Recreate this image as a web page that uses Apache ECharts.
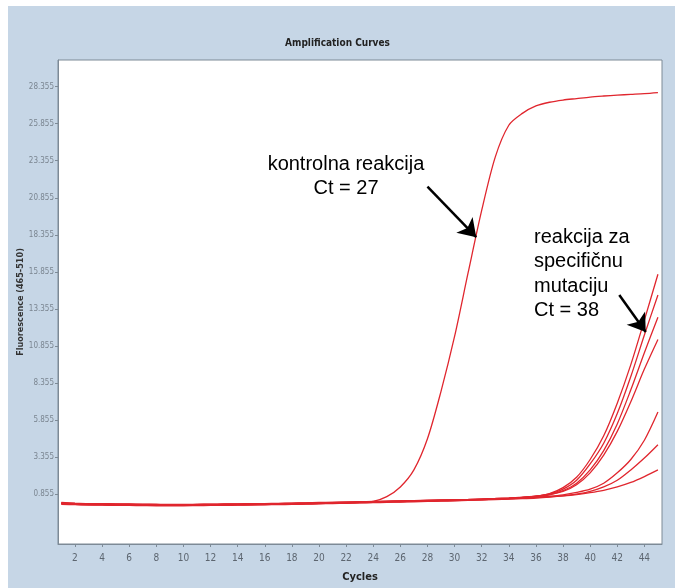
<!DOCTYPE html>
<html>
<head>
<meta charset="utf-8">
<script src="https://cdn.jsdelivr.net/npm/echarts@6/dist/echarts.min.js"></script>
<style>
  html, body { margin: 0; padding: 0; background: #ffffff; }
  #panel { position: absolute; left: 8px; top: 6px; width: 667px; height: 582px; background: #c6d6e6; }
  #chart { position: absolute; left: 0; top: 0; width: 675px; height: 588px; }
</style>
</head>
<body>
<div id="panel"></div>
<div id="chart"></div>
<script>
const cycles = [1,2,3,4,5,6,7,8,9,10,11,12,13,14,15,16,17,18,19,20,21,22,23,24,25,26,27,28,29,30,31,32,33,34,35,36,37,38,39,40,41,42,43,44,45]
const xTicks = [2,4,6,8,10,12,14,16,18,20,22,24,26,28,30,32,34,36,38,40,42,44]
const yTicks = [0.855,3.355,5.855,8.355,10.855,13.355,15.855,18.355,20.855,23.355,25.855,28.355]

// kontrolna reakcija
const control = [0.25,0.2,0.18,0.17,0.16,0.15,0.14,0.13,0.13,0.12,0.13,0.14,0.15,0.16,0.17,0.18,0.2,0.21,0.22,0.24,0.26,0.28,0.31,0.38,0.7,1.35,2.5,4.6,7.8,11.5,15.8,20.0,23.6,25.75,26.55,27.05,27.3,27.45,27.55,27.65,27.72,27.78,27.83,27.88,27.95]
// reakcije za specifičnu mutaciju
const mutA = [0.22,0.18,0.16,0.15,0.14,0.13,0.12,0.11,0.1,0.1,0.11,0.12,0.13,0.14,0.15,0.16,0.18,0.19,0.21,0.23,0.25,0.27,0.29,0.31,0.33,0.35,0.37,0.39,0.41,0.43,0.46,0.49,0.53,0.58,0.64,0.72,0.9,1.3,2.0,3.2,4.8,7.0,9.6,12.6,15.7]
const mutB = [0.28,0.24,0.21,0.2,0.19,0.18,0.17,0.16,0.15,0.15,0.16,0.17,0.18,0.19,0.2,0.21,0.22,0.24,0.26,0.28,0.3,0.32,0.34,0.36,0.38,0.4,0.42,0.44,0.46,0.48,0.5,0.53,0.56,0.6,0.65,0.72,0.88,1.2,1.8,2.9,4.3,6.3,8.8,11.6,14.3]
const mutC = [0.18,0.15,0.13,0.12,0.11,0.1,0.09,0.08,0.08,0.08,0.09,0.1,0.11,0.12,0.13,0.14,0.16,0.17,0.19,0.21,0.23,0.25,0.27,0.29,0.31,0.33,0.35,0.37,0.39,0.41,0.44,0.47,0.51,0.55,0.6,0.68,0.82,1.1,1.6,2.5,3.8,5.6,7.9,10.4,12.8]
const mutD = [0.3,0.26,0.23,0.22,0.21,0.2,0.19,0.18,0.17,0.17,0.18,0.19,0.2,0.21,0.22,0.23,0.24,0.26,0.28,0.3,0.31,0.33,0.35,0.37,0.39,0.41,0.43,0.45,0.47,0.49,0.51,0.54,0.57,0.61,0.66,0.72,0.85,1.05,1.5,2.3,3.5,5.1,7.1,9.3,11.3]
const mutE = [0.24,0.2,0.18,0.17,0.16,0.15,0.14,0.14,0.13,0.13,0.14,0.15,0.16,0.17,0.18,0.19,0.21,0.22,0.24,0.26,0.28,0.3,0.32,0.34,0.36,0.38,0.4,0.42,0.44,0.46,0.48,0.5,0.53,0.56,0.6,0.65,0.72,0.82,0.98,1.2,1.6,2.3,3.2,4.5,6.4]
const mutF = [0.2,0.17,0.15,0.14,0.13,0.12,0.11,0.11,0.1,0.11,0.12,0.13,0.14,0.15,0.16,0.17,0.19,0.2,0.22,0.24,0.26,0.28,0.3,0.32,0.34,0.36,0.38,0.4,0.42,0.44,0.46,0.48,0.5,0.53,0.56,0.6,0.66,0.74,0.86,1.05,1.35,1.8,2.5,3.3,4.2]
const mutG = [0.26,0.22,0.2,0.19,0.18,0.17,0.16,0.15,0.15,0.15,0.16,0.17,0.18,0.19,0.2,0.21,0.23,0.24,0.26,0.28,0.29,0.31,0.33,0.35,0.37,0.39,0.41,0.43,0.45,0.47,0.49,0.51,0.53,0.56,0.59,0.63,0.68,0.75,0.84,0.96,1.12,1.35,1.65,2.05,2.5]

// arrows (data coordinates: start, tip)
const arrowControl = [[28.0, 21.6], [31.6, 18.2]]
const arrowMutation = [[42.15, 14.3], [44.1, 11.8]]

const curves = [control, mutA, mutB, mutC, mutD, mutE, mutF, mutG]
const narrow = '"Liberation Sans Narrow", "DejaVu Sans Condensed", sans-serif'
const textFont = '"Liberation Sans", Arial, sans-serif'

const chart = echarts.init(document.getElementById('chart'))

const series = curves.map((vals, i) => ({
  type: 'line',
  data: cycles.map((c, k) => [c, vals[k]]),
  smooth: 0.3,
  showSymbol: false,
  silent: true,
  lineStyle: { color: '#e0262e', width: 1.3 },
  markLine: i === 0 ? {
    silent: true,
    symbol: ['none', 'arrow'],
    symbolSize: 17,
    label: { show: false },
    lineStyle: { color: '#000000', width: 2.5, type: 'solid' },
    data: [
      [{ coord: arrowControl[0] }, { coord: arrowControl[1] }],
      [{ coord: arrowMutation[0] }, { coord: arrowMutation[1] }]
    ]
  } : undefined
}))

chart.setOption({
  animation: false,
  backgroundColor: 'transparent',
  title: {
    text: 'Amplification Curves',
    left: 'center',
    top: 33,
    textStyle: { fontFamily: narrow, fontSize: 10, fontWeight: 'bold', color: '#222222' }
  },
  grid: {
    left: 58, top: 60, right: 13, bottom: 41,
    show: true,
    backgroundColor: '#ffffff',
    borderColor: '#7d8a96',
    borderWidth: 1
  },
  xAxis: {
    type: 'value',
    min: 0.75,
    max: 45.3,
    name: 'Cycles',
    nameLocation: 'middle',
    nameGap: 28,
    nameMoveOverlap: false,
    nameTextStyle: { fontFamily: narrow, fontSize: 11, fontWeight: 'bold', color: '#222222' },
    axisLine: { show: true, onZero: false, lineStyle: { color: '#7d8a96' } },
    axisTick: { show: true, customValues: xTicks, length: 3, lineStyle: { color: '#7d8a96' } },
    axisLabel: { customValues: xTicks, fontFamily: narrow, fontSize: 10, color: '#5d6670', margin: 9 },
    splitLine: { show: false }
  },
  yAxis: {
    type: 'value',
    min: -2.5,
    max: 30.15,
    name: 'Fluorescence (465-510)',
    nameLocation: 'middle',
    nameGap: 33,
    nameMoveOverlap: false,
    nameTextStyle: { fontFamily: narrow, fontSize: 9, fontWeight: 'bold', color: '#333333' },
    axisLine: { show: true, onZero: false, lineStyle: { color: '#7d8a96' } },
    axisTick: { show: true, customValues: yTicks, length: 3, lineStyle: { color: '#7d8a96' } },
    axisLabel: {
      customValues: yTicks,
      formatter: v => v.toFixed(3),
      fontFamily: narrow, fontSize: 8, color: '#7a8590', margin: 4
    },
    splitLine: { show: false }
  },
  graphic: [
    {
      type: 'text', z: 100,
      style: { text: 'kontrolna reakcija\nCt = 27', x: 346, y: 152, textAlign: 'center', font: '20px ' + textFont, lineHeight: 24, fill: '#000000' }
    },
    {
      type: 'text', z: 100,
      style: { text: 'reakcija za\nspecifičnu\nmutaciju\nCt = 38', x: 534, y: 225, textAlign: 'left', font: '20px ' + textFont, lineHeight: 24.5, fill: '#000000' }
    }
  ],
  series
})
</script>
</body>
</html>
